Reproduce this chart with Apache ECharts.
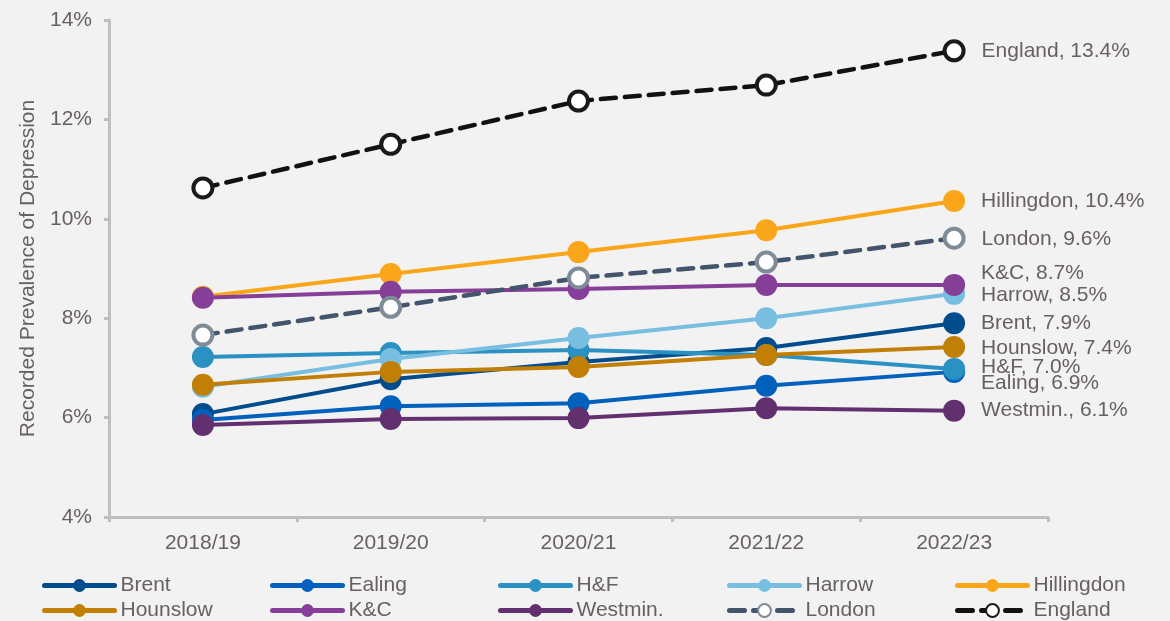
<!DOCTYPE html>
<html lang="en">
<head>
    <meta charset="UTF-8">
    <title>Recorded Prevalence of Depression</title>
    <script type="text/javascript" src="https://cdn.jsdelivr.net/npm/echarts@6/dist/echarts.min.js"></script>
    <style>
        html, body { margin:0; padding:0; background:#f2f2f2; }
        #chart { width:1170px; height:621px; }
    </style>
</head>
<body>
<div id="chart"></div>
<script>
    // 数据
    var years = ['2018/19', '2019/20', '2020/21', '2021/22', '2022/23'];
    var brent      = [6.07, 6.77, 7.12, 7.40, 7.90];
    var ealing     = [5.95, 6.23, 6.29, 6.64, 6.92];
    var hf         = [7.22, 7.30, 7.36, 7.26, 6.98];
    var harrow     = [6.62, 7.18, 7.60, 8.00, 8.49];
    var hillingdon = [8.43, 8.89, 9.33, 9.77, 10.36];
    var hounslow   = [6.66, 6.92, 7.02, 7.26, 7.42];
    var kc         = [8.41, 8.53, 8.59, 8.67, 8.67];
    var westmin    = [5.85, 5.97, 5.99, 6.19, 6.14];
    var london     = [7.66, 8.22, 8.81, 9.13, 9.61];
    var england    = [10.62, 11.50, 12.37, 12.69, 13.38];
    var yTicks = [4, 14, 2]; // min, max, interval

    var textColor = '#675f62';
    var font = 'Liberation Sans, Arial, sans-serif';

    var myChart = echarts.init(document.getElementById('chart'));

    function mkSeries(name, values, color, labelDy, opts){
        opts = opts || {};
        var last = values.length - 1;
        var data = values.map(function(v, i){
            if(i !== last) return v;
            return {
                value: v,
                label: {
                    show: true,
                    position: 'right',
                    distance: 16,
                    offset: [0, labelDy || 0],
                    color: textColor,
                    fontFamily: font,
                    fontSize: 21,
                    formatter: function(p){ return name + ', ' + p.value.toFixed(1) + '%'; }
                }
            };
        });
        return {
            name: name,
            type: 'line',
            data: data,
            symbol: 'circle',
            symbolSize: opts.hollow ? 19 : 22,
            lineStyle: {
                color: color,
                width: opts.hollow ? 4.5 : 4,
                type: opts.hollow ? [15, 9] : 'solid',
                cap: 'round'
            },
            itemStyle: opts.hollow ? {
                color: '#ffffff',
                borderColor: opts.border,
                borderWidth: 4
            } : { color: color },
            emphasis: { disabled: true },
            animation: false
        };
    }

    var series = [
        mkSeries('Brent', brent, '#004c8c', 0),
        mkSeries('Ealing', ealing, '#0261bc', 11),
        mkSeries('H&F', hf, '#2a91c2', -2),
        mkSeries('Harrow', harrow, '#78bee0', 1),
        mkSeries('Hillingdon', hillingdon, '#f9a61a', 0),
        mkSeries('Hounslow', hounslow, '#c17f05', 1),
        mkSeries('K&C', kc, '#863f98', -12),
        mkSeries('Westmin.', westmin, '#63306f', 0),
        mkSeries('London', london, '#44546a', 1, { hollow: true, border: '#7f8c97' }),
        mkSeries('England', england, '#111111', 0, { hollow: true, border: '#1a1a1a' })
    ];

    // 图例：5列2行，每项单独定位
    var colX = [42, 270, 498, 727, 955];
    var rowY = [575, 600];
    var legends = series.map(function(s, i){
        return {
            data: [s.name],
            left: colX[i % 5],
            top: rowY[Math.floor(i / 5)],
            itemWidth: 70,
            itemHeight: 16,
            itemGap: 0,
            padding: 0,
            selectedMode: false,
            lineStyle: { width: 5, cap: 'round' },
            textStyle: { color: textColor, fontFamily: font, fontSize: 21, padding: [0, 0, 0, 1] }
        };
    });

    var option = {
        backgroundColor: '#f2f2f2',
        animation: false,
        grid: { left: 109, right: 122, top: 20, bottom: 104 },
        legend: legends,
        xAxis: {
            type: 'category',
            data: years,
            boundaryGap: true,
            axisLine: { lineStyle: { color: '#bfbfbf', width: 3 } },
            axisTick: { show: true, length: 5, lineStyle: { color: '#bfbfbf', width: 3 } },
            axisLabel: { color: textColor, fontFamily: font, fontSize: 21, margin: 16 }
        },
        yAxis: {
            type: 'value',
            min: yTicks[0],
            max: yTicks[1],
            interval: yTicks[2],
            name: 'Recorded Prevalence of Depression',
            nameLocation: 'middle',
            nameGap: 70,
            nameTextStyle: { color: textColor, fontFamily: font, fontSize: 21 },
            splitLine: { show: false },
            axisLine: { show: true, lineStyle: { color: '#bfbfbf', width: 3 } },
            axisTick: { show: true, length: 5, lineStyle: { color: '#bfbfbf', width: 3 } },
            axisLabel: { color: textColor, fontFamily: font, fontSize: 21, margin: 17, formatter: '{value}%' }
        },
        series: series
    };

    myChart.setOption(option);
</script>
</body>
</html>
